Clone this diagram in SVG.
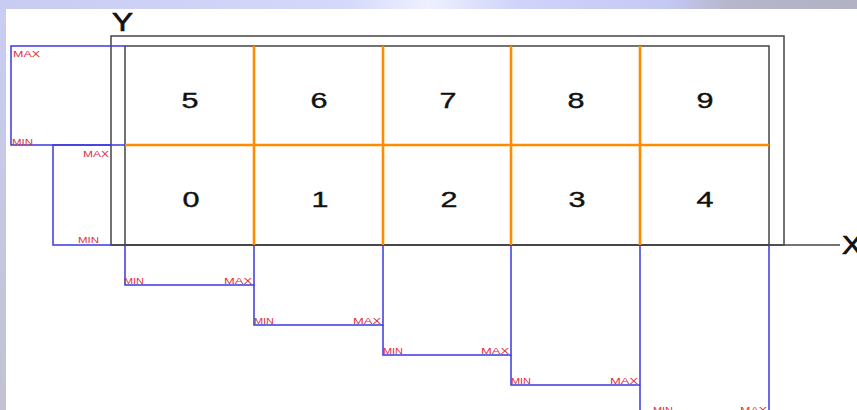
<svg xmlns="http://www.w3.org/2000/svg" width="857" height="410" viewBox="0 0 857 410">
<defs>
<linearGradient id="topband" x1="0" y1="0" x2="1" y2="0">
<stop offset="0" stop-color="#c8ccf2"/>
<stop offset="0.4" stop-color="#d4d8fa"/>
<stop offset="0.5" stop-color="#eef0ff"/>
<stop offset="0.6" stop-color="#d0d4fa"/>
<stop offset="0.78" stop-color="#c4c8f4"/>
<stop offset="0.85" stop-color="#b6b6cc"/>
<stop offset="1" stop-color="#b2b2c4"/>
</linearGradient>
<linearGradient id="leftband" x1="0" y1="0" x2="0" y2="1">
<stop offset="0" stop-color="#cacdf3"/>
<stop offset="1" stop-color="#c2c2d2"/>
</linearGradient>
</defs>
<style>
.box{fill:none;stroke:#444;stroke-width:1.5}
.grid{fill:none;stroke:#ff8c00;stroke-width:2.6}
.rng{fill:none;stroke:#3c38e0;stroke-width:1.5}
.lbl{font-family:"Liberation Sans",Arial,sans-serif;font-size:8.5px;fill:#e0303a}
.dig{font-family:"Liberation Sans",Arial,sans-serif;font-size:22px;fill:#111;stroke:#111;stroke-width:0.4;text-anchor:middle}
.ax{font-family:"Liberation Sans",Arial,sans-serif;font-size:25px;fill:#111;stroke:#111;stroke-width:0.7}
</style>
<rect x="0" y="0" width="857" height="410" fill="#ffffff"/>
<rect x="0" y="0" width="857" height="9" fill="url(#topband)"/>
<rect x="0" y="9" width="6" height="401" fill="url(#leftband)"/>

<g id="axes">
<rect class="box" x="111" y="36" width="673" height="209"/>
<line class="box" x1="111" y1="245" x2="840" y2="245"/>
<text class="ax" x="112" y="31" textLength="21" lengthAdjust="spacingAndGlyphs">Y</text>
<text class="ax" x="842" y="254" textLength="20" lengthAdjust="spacingAndGlyphs">X</text>
</g>

<g id="grid">
<rect class="box" x="125" y="46" width="644" height="199"/>
<line class="grid" x1="125" y1="145" x2="769" y2="145"/>
<line class="grid" x1="254" y1="46" x2="254" y2="245"/>
<line class="grid" x1="383" y1="46" x2="383" y2="245"/>
<line class="grid" x1="511" y1="46" x2="511" y2="245"/>
<line class="grid" x1="640" y1="46" x2="640" y2="245"/>
</g>

<g id="cells">
<g id="cell5"><text class="dig" x="190" y="108" textLength="17" lengthAdjust="spacingAndGlyphs">5</text></g>
<g id="cell6"><text class="dig" x="319" y="108" textLength="17" lengthAdjust="spacingAndGlyphs">6</text></g>
<g id="cell7"><text class="dig" x="448" y="108" textLength="17" lengthAdjust="spacingAndGlyphs">7</text></g>
<g id="cell8"><text class="dig" x="576" y="108" textLength="17" lengthAdjust="spacingAndGlyphs">8</text></g>
<g id="cell9"><text class="dig" x="705" y="108" textLength="17" lengthAdjust="spacingAndGlyphs">9</text></g>
<g id="cell0"><text class="dig" x="191" y="207" textLength="17" lengthAdjust="spacingAndGlyphs">0</text></g>
<g id="cell1"><text class="dig" x="320" y="207" textLength="17" lengthAdjust="spacingAndGlyphs">1</text></g>
<g id="cell2"><text class="dig" x="449" y="207" textLength="17" lengthAdjust="spacingAndGlyphs">2</text></g>
<g id="cell3"><text class="dig" x="577" y="207" textLength="17" lengthAdjust="spacingAndGlyphs">3</text></g>
<g id="cell4"><text class="dig" x="705" y="207" textLength="17" lengthAdjust="spacingAndGlyphs">4</text></g>
</g>

<g id="ranges">
<g id="yrange-top">
<polyline class="rng" points="125,46 11,46 11,145 125,145"/>
<text class="lbl" x="13" y="57" textLength="27" lengthAdjust="spacingAndGlyphs">MAX</text>
<text class="lbl" x="12" y="145" textLength="21" lengthAdjust="spacingAndGlyphs">MIN</text>
</g>
<g id="yrange-bottom">
<polyline class="rng" points="111,145 53,145 53,245 111,245"/>
<text class="lbl" x="83" y="157" textLength="26" lengthAdjust="spacingAndGlyphs">MAX</text>
<text class="lbl" x="78" y="243" textLength="21" lengthAdjust="spacingAndGlyphs">MIN</text>
</g>
<g id="xrange0">
<polyline class="rng" points="125,246 125,285 254,285 254,246"/>
<text class="lbl" x="124" y="284" textLength="20" lengthAdjust="spacingAndGlyphs">MIN</text>
<text class="lbl" x="224" y="284" textLength="28" lengthAdjust="spacingAndGlyphs">MAX</text>
</g>
<g id="xrange1">
<polyline class="rng" points="254,285 254,325 383,325 383,246"/>
<text class="lbl" x="254" y="324" textLength="20" lengthAdjust="spacingAndGlyphs">MIN</text>
<text class="lbl" x="353" y="324" textLength="28" lengthAdjust="spacingAndGlyphs">MAX</text>
</g>
<g id="xrange2">
<polyline class="rng" points="383,325 383,355 511,355 511,246"/>
<text class="lbl" x="383" y="354" textLength="20" lengthAdjust="spacingAndGlyphs">MIN</text>
<text class="lbl" x="481" y="354" textLength="28" lengthAdjust="spacingAndGlyphs">MAX</text>
</g>
<g id="xrange3">
<polyline class="rng" points="511,355 511,385 640,385 640,246"/>
<text class="lbl" x="511" y="384" textLength="20" lengthAdjust="spacingAndGlyphs">MIN</text>
<text class="lbl" x="610" y="384" textLength="28" lengthAdjust="spacingAndGlyphs">MAX</text>
</g>
<g id="xrange4">
<polyline class="rng" points="640,385 640,415 769,415 769,246"/>
<text class="lbl" x="653" y="413" textLength="20" lengthAdjust="spacingAndGlyphs">MIN</text>
<text class="lbl" x="740" y="413" textLength="27" lengthAdjust="spacingAndGlyphs">MAX</text>
</g>
</g>
</svg>
